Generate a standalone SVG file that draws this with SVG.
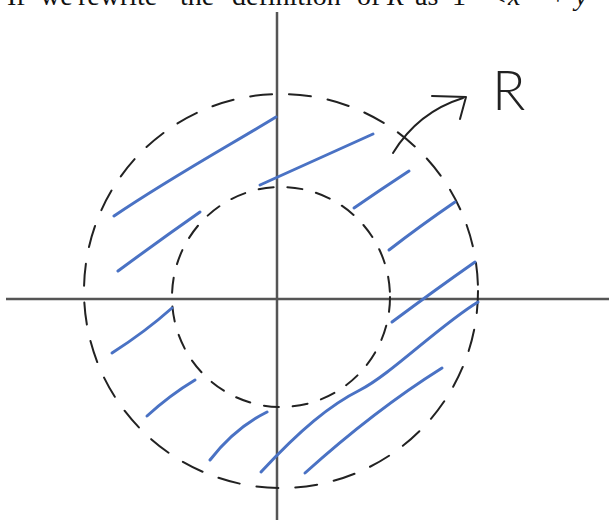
<svg xmlns="http://www.w3.org/2000/svg" width="609" height="520" viewBox="0 0 609 520">
<style>
.cap{font-family:"Liberation Serif",serif;font-size:28px;fill:#111}
.it{font-style:italic}
.axis{stroke:#555;stroke-width:2.5;fill:none}
.dash-o{stroke:#222;stroke-width:2;fill:none;stroke-dasharray:22 17;stroke-linecap:round}
.dash-i{stroke:#222;stroke-width:2;fill:none;stroke-dasharray:15 14;stroke-linecap:round}
.hatch{stroke:#4a72c4;stroke-width:3;fill:none;stroke-linecap:round}
.ink{stroke:#222;stroke-width:2;fill:none;stroke-linecap:round;stroke-linejoin:round}
</style>
<rect width="609" height="520" fill="#fff"/>
<g id="caption">
<text class="cap" y="5"><tspan x="7">If</tspan><tspan x="40">we</tspan><tspan x="78">rewrite</tspan><tspan x="180">the</tspan><tspan x="232">definition</tspan><tspan x="357">of</tspan><tspan x="387" class="it">R</tspan><tspan x="415">as</tspan><tspan x="452">1</tspan><tspan x="490">&lt;</tspan><tspan x="508" class="it">x</tspan><tspan x="550">+</tspan><tspan x="575" class="it">y</tspan></text>
</g>
<g id="axes">
<line class="axis" x1="277" y1="12" x2="277" y2="520"/>
<line class="axis" x1="6" y1="299" x2="609" y2="299"/>
</g>
<g id="outer-boundary">
<circle class="dash-o" cx="281" cy="291" r="197"/>
</g>
<g id="inner-boundary">
<ellipse class="dash-i" cx="281" cy="297" rx="109" ry="110"/>
</g>
<g id="hatching">
<path class="hatch" d="M114,216 C170,178 230,145 276,117"/>
<path class="hatch" d="M118,271 Q160,240 200,212"/>
<path class="hatch" d="M260,185 Q320,158 373,134"/>
<path class="hatch" d="M354,208 Q380,190 409,171"/>
<path class="hatch" d="M389,250 Q420,226 455,202"/>
<path class="hatch" d="M392,322 Q435,290 475,262"/>
<path class="hatch" d="M261,472 C300,430 330,405 360,390 S440,325 478,302"/>
<path class="hatch" d="M305,473 Q375,410 442,368"/>
<path class="hatch" d="M112,353 Q145,332 172,308"/>
<path class="hatch" d="M147,416 Q170,395 195,380"/>
<path class="hatch" d="M210,460 Q235,428 267,412"/>
</g>
<g id="arrow">
<path class="ink" d="M393,153 Q418,112 463,98"/>
<polyline class="ink" points="432,96 466,97 460,119"/>
</g>
<g id="label-R">
<text x="492" y="110" font-family="Lato,'Liberation Sans',sans-serif" font-weight="300" font-size="55" fill="#222">R</text>
</g>
</svg>
